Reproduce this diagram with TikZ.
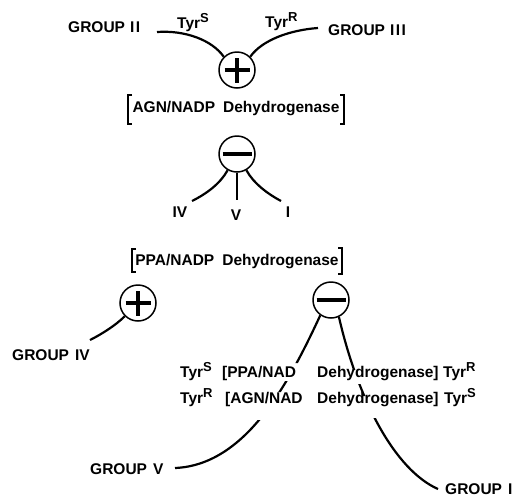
\documentclass[tikz,border=0pt]{standalone}
\usepackage{fontspec}
\setmainfont{Liberation Sans}
\newcommand{\tyr}[1]{Tyr\raisebox{6pt}{\fontsize{13}{13}\selectfont #1}}
\begin{document}
\begin{tikzpicture}[x=1pt,y=-1pt,
  lbl/.style={font=\fontsize{15.5}{18}\selectfont\bfseries, inner sep=0pt},
  ring/.style={circle, draw, line width=1.5pt, minimum size=36pt, inner sep=0pt},
  sign/.style={line width=3.4pt},
  conn/.style={line width=2.2pt},
  brk/.style={line width=1.3pt}]
\useasboundingbox (0,0) rectangle (518,496);

% top part
\node[lbl, anchor=base west] (g2) at (68,32) {GROUP\hspace{5pt}I\hspace{1.5pt}I};
\node[lbl, anchor=base west] (ts1) at (177,28) {\tyr{S}};
\node[lbl, anchor=base west] (tr1) at (265,27) {\tyr{R}};
\node[lbl, anchor=base west] (g3) at (328,35) {GROUP\hspace{5pt}I\hspace{1.5pt}I\hspace{1.5pt}I};
\node[ring] (p1) at (237,70) {};
\draw[sign] ([xshift=-12.5pt]p1.center) -- ([xshift=12.5pt]p1.center);
\draw[sign] ([yshift=-12.5pt]p1.center) -- ([yshift=12.5pt]p1.center);
\coordinate (a1) at (157,32);
\coordinate (a2) at (318,28);
\draw[conn] (a1) .. controls (185,30) and (212,40) .. (p1.135);
\draw[conn] (p1.45) .. controls (262,40) and (290,30) .. (a2);

\node[lbl, anchor=base] (agn) at (236,112) {AGN/NADP\hspace{8pt}Dehydrogenase};
\draw[brk] (132,95) -- (128,95) -- (128,124) -- (132,124);
\draw[brk] (340,95) -- (344,95) -- (344,124) -- (340,124);

\node[ring] (m1) at (237,154) {};
\draw[sign] ([xshift=-14.5pt]m1.center) -- ([xshift=14.5pt]m1.center);
\coordinate (b1) at (192,201);
\coordinate (b2) at (237,200);
\coordinate (b3) at (281,201);
\draw[conn] (m1.240) .. controls (220,184) and (206,194) .. (b1);
\draw[conn] (m1.south) -- (b2);
\draw[conn] (m1.300) .. controls (254,184) and (268,194) .. (b3);
\node[lbl, anchor=base] (iv) at (180,217) {IV};
\node[lbl, anchor=base] (v) at (236,220) {V};
\node[lbl, anchor=base] (i) at (288,217) {I};

\node[lbl, anchor=base] (ppa) at (237,265) {PPA/NADP\hspace{8pt}Dehydrogenase};
\draw[brk] (136,249) -- (132,249) -- (132,272) -- (136,272);
\draw[brk] (338,248) -- (342,248) -- (342,274) -- (338,274);

% lower left
\node[ring] (p2) at (138,303) {};
\draw[sign] ([xshift=-12.5pt]p2.center) -- ([xshift=12.5pt]p2.center);
\draw[sign] ([yshift=-12.5pt]p2.center) -- ([yshift=12.5pt]p2.center);
\coordinate (c1) at (90,340);
\draw[conn] (p2.225) .. controls (115,326) and (100,335) .. (c1);
\node[lbl, anchor=base west] (g4) at (12,360) {GROUP\hspace{6pt}IV};

% lower right
\node[ring] (m2) at (331,300) {};
\draw[sign] ([xshift=-14.5pt]m2.center) -- ([xshift=14.5pt]m2.center);
\node[lbl, anchor=base west] (g5) at (90,474) {GROUP\hspace{6pt}V};
\node[lbl, anchor=base west] (g1) at (445,494) {GROUP\hspace{6pt}I};
\coordinate (d1) at (175,468);
\coordinate (d2) at (438,489);
\begin{scope}
\clip (0,0) rectangle (518,363) (0,381) rectangle (518,392) (0,420) rectangle (518,496);
\draw[conn] (m2.235) .. controls (288,385) and (245,465) .. (d1);
\end{scope}
\begin{scope}
\clip (0,0) rectangle (518,370) (0,384) rectangle (518,396) (0,418) rectangle (518,496);
\draw[conn] (m2.295) .. controls (358,400) and (395,470) .. (d2);
\end{scope}

\node[lbl, anchor=base west] (l1a) at (180,377) {\tyr{S}};
\node[lbl, anchor=base west] (l1b) at (222,377) {[PPA/NAD};
\node[lbl, anchor=base west] (l1c) at (317,377) {Dehydrogenase]};
\node[lbl, anchor=base west] (l1d) at (443,377) {\tyr{R}};
\node[lbl, anchor=base west] (l2a) at (180,403) {\tyr{R}};
\node[lbl, anchor=base west] (l2b) at (225,403) {[AGN/NAD};
\node[lbl, anchor=base west] (l2c) at (317,403) {Dehydrogenase]};
\node[lbl, anchor=base west] (l2d) at (444,403) {\tyr{S}};
\end{tikzpicture}
\end{document}
